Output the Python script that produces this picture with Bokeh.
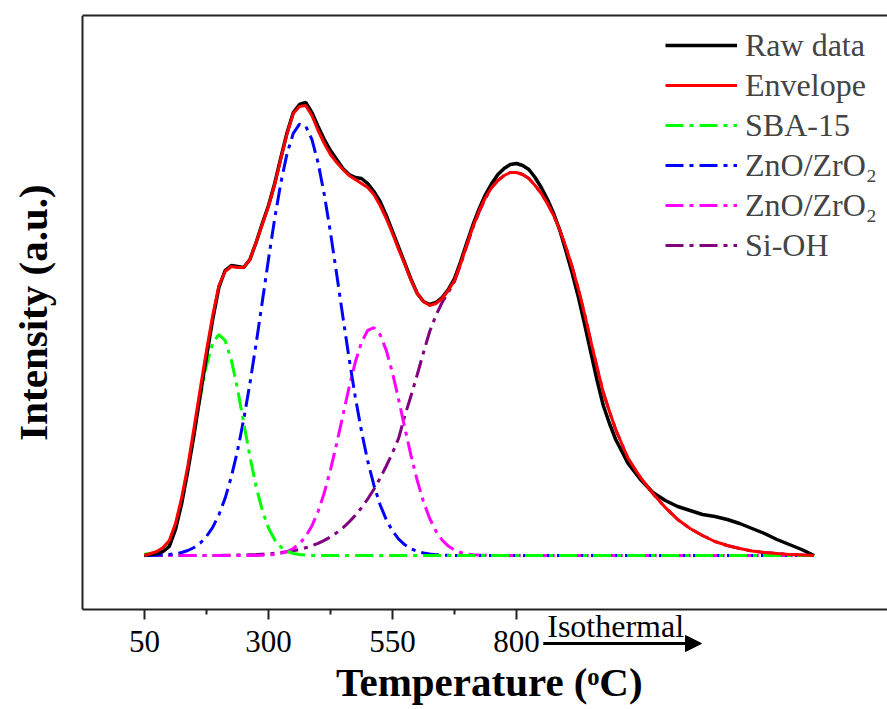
from bokeh.plotting import figure
from bokeh.models import (Range1d, FixedTicker, LinearAxis, Legend, LegendItem,
                          Label, Arrow, NormalHead)
from bokeh.embed import file_html
from bokeh.resources import INLINE

# ---------------- data ----------------
temperature = [50, 75, 87.5, 100, 112.5, 125, 137.5, 150, 162.5, 175, 187.5, 200,
               212.5, 225, 237.5, 250, 262.5, 275, 287.5, 300, 312.5, 325, 337.5,
               350, 362.5, 375, 387.5, 400, 412.5, 425, 437.5, 450, 462.5, 475,
               487.5, 500, 512.5, 525, 537.5, 550, 562.5, 575, 587.5, 600, 612.5,
               625, 637.5, 650, 662.5, 675, 687.5, 700, 712.5, 725, 737.5, 750,
               762.5, 775, 787.5, 800, 812.5, 825, 837.5, 850, 862.5, 875, 887.5,
               900, 912.5, 925, 937.5, 950, 962.5, 975, 987.5, 1000, 1025, 1050,
               1075, 1100, 1125, 1150, 1175, 1200, 1225, 1250, 1275, 1300, 1325,
               1350, 1375, 1400]

raw_data = [0, 2, 4, 9, 26, 52, 85, 121, 161, 199,
            236, 268, 285, 290, 289, 288, 296, 313, 332, 350,
            372, 398, 423, 443, 451, 453, 443, 429, 416, 405,
            396, 387, 381, 378, 377, 372, 364, 354, 340, 324,
            308, 292, 276, 262, 254, 251, 253, 258, 266, 277,
            294, 313, 331, 347, 361, 372, 381, 387, 391, 392,
            390, 386, 378, 368, 356, 342, 325, 304, 282, 258,
            231, 203, 175, 150, 132, 116, 92, 76, 63, 55,
            49, 45, 41, 39, 36, 32, 27, 22, 16, 11, 6, 0]

envelope = [0, 4, 8, 15, 32, 58, 90, 128, 167, 205,
            240, 270, 284, 289, 288, 288, 296, 313, 331, 349,
            371, 397, 422, 442, 449, 450, 440, 425, 412, 401,
            393, 386, 380, 376, 372, 368, 361, 350, 337, 322,
            306, 291, 275, 262, 254, 250, 252, 257, 265, 275,
            292, 311, 329, 345, 358, 368, 375, 380, 383, 383,
            381, 377, 370, 362, 352, 340, 325, 308, 288, 266,
            241, 214, 188, 163, 144, 126, 97, 78, 62, 48,
            36, 27, 20, 14, 10, 7, 4.5, 3, 2, 1, 0.5, 0]

sba15 = [1.2, 3.0, 6.0, 13.0, 30.0, 56.0, 88.0, 124.0, 158.0, 190.0, 212.3, 221.0,
         215.1, 195.8, 166.8, 132.9, 99.1, 69.1, 45.1, 27.5, 15.7, 8.4, 4.2, 2.0,
         0.9, 0.4, 0.1,
         0, 0, 0, 0, 0, 0, 0, 0, 0, 0, 0, 0, 0,
         0, 0, 0, 0, 0, 0, 0, 0, 0, 0, 0, 0, 0,
         0, 0, 0, 0, 0, 0, 0, 0, 0, 0, 0, 0, 0,
         0, 0, 0, 0, 0, 0, 0, 0, 0, 0, 0, 0, 0,
         0, 0, 0, 0, 0, 0, 0, 0, 0, 0, 0, 0, 0]

zno_zro2_low = [0.1, 0.3, 0.6, 1.0, 1.8, 3.0, 5.0, 8.0, 12.5, 19.0, 28.2, 40.7,
                57.2, 78.5, 104.6, 135.9, 171.8, 211.6, 253.7, 296.3, 336.9, 372.9,
                402.1, 422.1, 431.4, 429.4, 416.1, 392.7, 360.9, 322.9, 281.3, 238.6,
                197.1, 158.6, 124.2, 94.7, 70.3, 50.8, 35.8, 24.6, 16.4, 10.7, 6.7,
                4.2, 2.5, 1.5, 0.8, 0.5, 0.2, 0.1, 0.1,
                0, 0, 0, 0, 0, 0, 0, 0, 0, 0, 0, 0, 0,
                0, 0, 0, 0, 0, 0, 0, 0, 0, 0, 0, 0, 0,
                0, 0, 0, 0, 0, 0, 0, 0, 0, 0, 0, 0, 0, 0, 0]

zno_zro2_high = [0, 0, 0, 0, 0, 0, 0, 0, 0, 0, 0, 0, 0, 0, 0, 0, 0,
                 0.1, 0.3, 0.6, 1.1, 2.2, 4.0, 7.0, 11.8, 19.1, 29.6, 44.0, 62.7,
                 85.6, 111.9, 140.1, 168.2, 193.4, 213.2, 225.1, 227.8, 220.8, 205.1,
                 182.6, 155.7, 127.2, 99.6, 74.8, 53.7, 37.0, 24.4, 15.5, 9.4, 5.4,
                 3.0, 1.6, 0.8, 0.4, 0.2, 0.1,
                 0, 0, 0, 0, 0, 0, 0, 0, 0, 0, 0, 0,
                 0, 0, 0, 0, 0, 0, 0, 0, 0, 0, 0, 0,
                 0, 0, 0, 0, 0, 0, 0, 0, 0, 0, 0, 0]

si_oh = [0, 0, 0, 0, 0, 0, 0, 0,
         0.1, 0.1, 0.1, 0.1, 0.2, 0.3, 0.4, 0.5, 0.7, 0.9, 1.3, 1.7, 2.2, 2.9, 3.7,
         4.8, 6.1, 7.7, 9.7, 12.1, 15.1, 18.6, 22.8, 27.7, 33.5, 40.1, 47.8, 56.5,
         66.3, 77.3, 89.5, 102.8, 117.4,
         140, 160, 181, 203, 224, 240, 253, 263, 274, 291, 310, 328, 344, 357, 368,
         375, 380, 383, 383,
         381, 377, 370, 362, 352, 340, 325, 308, 288, 266, 241, 214, 188, 163, 144,
         126, 97, 78, 62, 48, 36, 27, 20, 14, 10, 7, 4.5, 3, 2, 1, 0.5, 0]

for series in (raw_data, envelope, sba15, zno_zro2_low, zno_zro2_high, si_oh):
    assert len(series) == len(temperature), len(series)

tick_values = [50, 300, 550, 800]
minor_tick_values = [175, 425, 675]

SERIF = "Liberation Serif"
AXIS_COLOR = "#222222"
DASH = "18 6 4 6"
X_LEFT, X_RIGHT = -75, 1548      # visible box of the plot (data units)
Y_BOTTOM, Y_TOP = -54, 540

# the frame covers the whole canvas; the axes are drawn at fixed locations
p = figure(width=887, height=709, output_backend="svg", toolbar_location=None,
           x_range=Range1d(-240.3, 1548), y_range=Range1d(-154, 540),
           min_border_left=0, min_border_right=0, min_border_top=15,
           min_border_bottom=0)
p.outline_line_color = None
p.xgrid.visible = False
p.ygrid.visible = False
p.background_fill_color = "white"

# x axis
xa = p.xaxis[0]
xa.fixed_location = Y_BOTTOM
xa.bounds = (X_LEFT, X_RIGHT)
xa.ticker = FixedTicker(ticks=tick_values, minor_ticks=minor_tick_values)
xa.axis_line_color = AXIS_COLOR
xa.axis_line_width = 2
xa.major_tick_in = 0
xa.major_tick_out = 10
xa.minor_tick_in = 0
xa.minor_tick_out = 5
xa.major_tick_line_width = 2
xa.minor_tick_line_width = 2
xa.major_tick_line_color = AXIS_COLOR
xa.minor_tick_line_color = AXIS_COLOR
xa.major_label_text_font = SERIF
xa.major_label_text_font_size = "31px"
xa.major_label_text_color = "black"
xa.major_label_standoff = 11

# y axis
ya = p.yaxis[0]
ya.fixed_location = X_LEFT
ya.bounds = (Y_BOTTOM, Y_TOP)
ya.ticker = FixedTicker(ticks=[])
ya.axis_line_color = AXIS_COLOR
ya.axis_line_width = 2
ya.major_tick_out = 0
ya.major_tick_in = 0
ya.minor_tick_out = 0
ya.minor_tick_in = 0

# top frame line
top = LinearAxis(ticker=FixedTicker(ticks=[]), axis_line_color=AXIS_COLOR,
                 axis_line_width=2, major_tick_out=0, major_tick_in=0,
                 minor_tick_out=0, minor_tick_in=0, major_label_standoff=0,
                 bounds=(X_LEFT, X_RIGHT))
p.add_layout(top, "above")

# curves
r_sioh = p.line(temperature, si_oh, line_color="#800080", line_width=3, line_dash=DASH)
r_zn2 = p.line(temperature, zno_zro2_high, line_color="#FF00FF", line_width=3, line_dash=DASH)
r_zn1 = p.line(temperature, zno_zro2_low, line_color="#0000FF", line_width=3, line_dash=DASH)
r_sba = p.line(temperature, sba15, line_color="#00FF00", line_width=3, line_dash=DASH)
r_raw = p.line(temperature, raw_data, line_color="black", line_width=3.5)
r_env = p.line(temperature, envelope, line_color="#FF0000", line_width=3)

legend = Legend(items=[
    LegendItem(label="Raw data", renderers=[r_raw]),
    LegendItem(label="Envelope", renderers=[r_env]),
    LegendItem(label="SBA-15", renderers=[r_sba]),
    LegendItem(label="ZnO/ZrO₂", renderers=[r_zn1]),
    LegendItem(label="ZnO/ZrO₂", renderers=[r_zn2]),
    LegendItem(label="Si-OH", renderers=[r_sioh]),
], location=(665, 444), padding=0, margin=0, border_line_color=None,
    background_fill_alpha=0, label_text_font=SERIF, label_text_font_size="32px",
    glyph_width=72, glyph_height=40, label_height=40, spacing=0, label_standoff=8)
p.add_layout(legend)

# y axis title
p.add_layout(Label(x=-174, y=243, text="Intensity (a.u.)", text_font=SERIF,
                   text_font_size="41px", text_font_style="bold", angle=90,
                   angle_units="deg", text_align="center", text_baseline="middle",
                   text_color="black"))

# isothermal annotation below the axis
p.add_layout(Label(x=862, y=-70, text="Isothermal", text_font=SERIF,
                   text_font_size="32px", text_baseline="alphabetic",
                   text_color="black"))
p.add_layout(Arrow(end=NormalHead(size=16, fill_color="black", line_color="black"),
                   x_start=854, y_start=-88, x_end=1173, y_end=-88,
                   line_width=3, line_color="black"))

# x axis title
p.add_layout(Label(x=745, y=-126, text="Temperature (ᵒC)", text_font=SERIF,
                   text_font_size="41px", text_font_style="bold",
                   text_align="center", text_baseline="alphabetic",
                   text_color="black"))

open("out.html", "w").write(file_html(p, INLINE))
